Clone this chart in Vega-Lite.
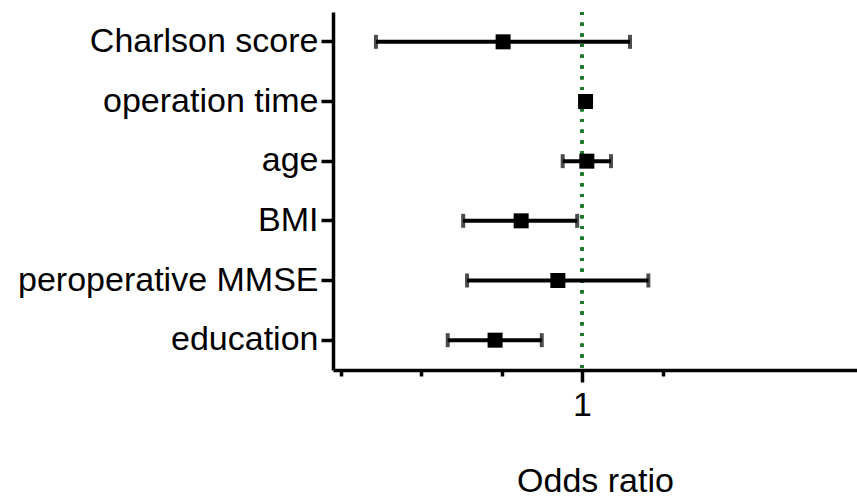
{
  "$schema": "https://vega.github.io/schema/vega-lite/v6.json",
  "autosize": "none",
  "width": 524,
  "height": 358,
  "padding": {"left": 333, "top": 12, "right": 0, "bottom": 132},
  "background": "white",
  "config": {
    "view": {"stroke": null},
    "font": "Liberation Sans",
    "axis": {"labelFont": "Liberation Sans", "titleFont": "Liberation Sans", "labelColor": "black", "titleColor": "black", "domainColor": "black", "tickColor": "black", "domainWidth": 3.5, "tickWidth": 3.5, "grid": false}
  },
  "data": {
    "values": [
      {"variable": "Charlson score", "or": 0.755, "low": 0.36, "high": 1.149},
      {"variable": "operation time", "or": 1.011, "low": 1.005, "high": 1.017},
      {"variable": "age", "or": 1.015, "low": 0.94, "high": 1.09},
      {"variable": "BMI", "or": 0.811, "low": 0.631, "high": 0.985},
      {"variable": "peroperative MMSE", "or": 0.925, "low": 0.643, "high": 1.206},
      {"variable": "education", "or": 0.73, "low": 0.583, "high": 0.875}
    ]
  },
  "encoding": {
    "y": {
      "field": "variable", "type": "nominal", "sort": null,
      "scale": {"paddingInner": 0, "paddingOuter": 0},
      "axis": {"title": null, "labelFontSize": 34, "labelPadding": 3, "tickSize": 12, "labelLimit": 400}
    }
  },
  "layer": [
    {
      "mark": {"type": "rule", "color": "#1a7a2a", "strokeWidth": 3, "strokeDash": [3, 7.7]},
      "encoding": {"x": {"datum": 1}, "y": null}
    },
    {
      "mark": {"type": "rule", "color": "black", "strokeWidth": 4},
      "encoding": {
        "x": {
          "field": "low", "type": "quantitative",
          "scale": {"domain": [0.2267, 1.854], "nice": false, "zero": false},
          "axis": {
            "title": "Odds ratio", "titleFontSize": 34, "titleFontWeight": "normal", "titlePadding": 42,
            "values": [0.25, 0.5, 0.75, 1, 1.25],
            "labelExpr": "datum.value == 1 ? '1' : ''",
            "labelFontSize": 34, "labelPadding": 6,
            "tickSize": {"condition": {"test": "datum.value == 1", "value": 12}, "value": 6}
          }
        },
        "x2": {"field": "high"}
      }
    },
    {
      "mark": {"type": "tick", "color": "black", "thickness": 4, "size": 14},
      "encoding": {"x": {"field": "low", "type": "quantitative"}}
    },
    {
      "mark": {"type": "tick", "color": "black", "thickness": 4, "size": 14},
      "encoding": {"x": {"field": "high", "type": "quantitative"}}
    },
    {
      "mark": {"type": "square", "color": "black", "opacity": 1, "filled": true, "size": 225},
      "encoding": {"x": {"field": "or", "type": "quantitative"}}
    }
  ]
}
